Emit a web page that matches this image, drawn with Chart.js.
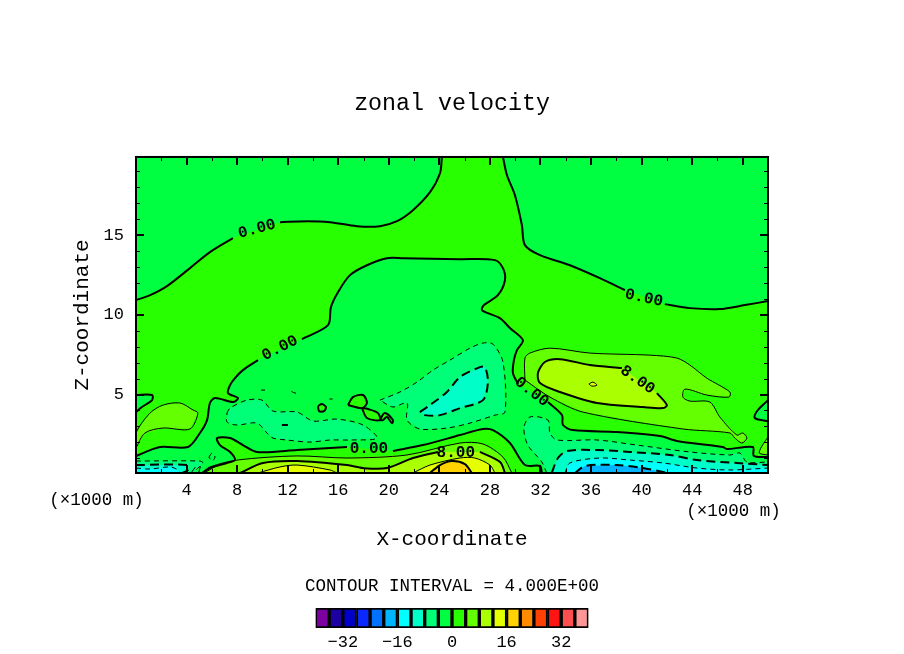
<!DOCTYPE html>
<html><head><meta charset="utf-8">
<style>html,body{margin:0;padding:0;background:#fff;overflow:hidden}
#main{position:absolute;left:0;top:0}
#bar{position:absolute;left:0;top:570px}</style>
<script src="https://cdn.jsdelivr.net/npm/chart.js@4"></script>
</head><body>
<canvas id="main" width="904" height="654"></canvas>
<canvas id="bar" width="904" height="84"></canvas>
<script>
// axis values
const xTickValues=[4,8,12,16,20,24,28,32,36,40,44,48];
const xMinorValues=[2,6,10,14,18,22,26,30,34,38,42,46];
const zTickValues=[5,10,15];
const zMinorValues=[1,2,3,4,6,7,8,9,11,12,13,14,16,17,18,19];
const xRange=[0,50];
const zRange=[0.08,19.9];
// colour key
const levelEdges=[-40,-36,-32,-28,-24,-20,-16,-12,-8,-4,0,4,8,12,16,20,24,28,32,36,40];
const levelColors=['#7d00a0','#1e00a0','#0000c8','#0a28ff','#0070ff','#00b4ff','#00ffff','#00ffc8','#00ff78','#00ff40','#28ff00','#64ff00','#aaff00','#e6ff00','#ffd200','#ff8c00','#ff4000','#ff1414','#ff5050','#ff9696'];
const keyTicks=[-32,-16,0,16,32];
const colorOf=v=>levelColors[levelEdges.indexOf(v)];
// contour lines, [x (km), z (km)]
const zeroTopLeftA=[[0,10.92],[1.11,11.23],[2.45,11.8],[4.27,12.93],[5.85,13.93],[7.67,14.81]];
const zeroTopLeftB=[[11.39,15.81],[13.53,15.87],[15.35,15.81],[17.48,15.56],[19.3,15.56],[20.65,15.87],[21.91,16.56],[23.26,17.69],[24.05,18.88],[24.2,19.9]];
const zeroTopRightA=[[29.03,19.9],[29.35,18.75],[29.98,17.5],[30.53,15.62],[30.77,14.37],[31.96,13.74],[34.33,13.11],[36.7,12.3],[38.68,11.55]];
const zeroTopRightB=[[41.84,10.67],[43.82,10.42],[46.19,10.36],[48.17,10.61],[50,10.86]];
const zeroMidA=[[0,1.15],[1.9,1.71],[4.11,1.71],[5.06,2.59],[5.62,3.4],[5.85,4.47],[6.25,4.78],[7.67,4.53],[8.07,4.78],[7.28,5.09],[7.44,5.59],[7.83,6.03],[8.46,6.53],[9.65,7.16]];
const zeroMidB=[[13.13,8.48],[15.19,9.35],[15.42,10.48],[15.98,11.42],[16.93,12.49],[18.27,13.11],[19.85,13.55],[21.12,13.55],[25.63,13.49],[28.4,13.43],[29.03,12.93],[29.19,12.17],[28.63,11.23],[27.53,10.61],[27.37,10.29],[28.79,9.79],[29.58,9.17],[30.61,8.41],[30.14,7.79],[29.9,7.16],[29.82,6.35],[30.22,5.66]];
const zeroMidC=[[32.59,4.53],[33.7,3.71],[33.78,3.09],[34.57,2.77],[38.05,2.65],[41.45,2.4],[42.79,2.09],[46.43,1.71],[46.75,1.58],[48.8,1.71],[48.88,1.15],[50,1.08]];
const zeroHumpA=[[32.11,0.08],[31.96,0.52],[30.77,0.58],[29.58,1.96],[28.24,2.77],[27.45,2.84],[25.63,2.46],[22.7,1.83],[20.33,1.46]];
const zeroHumpB=[[16.69,1.71],[15.35,1.65],[12.74,1.52],[9.57,1.4],[8.46,1.83],[7.44,2.27],[6.41,2.27],[6.64,1.83],[7.44,1.4],[7.83,0.89],[7.2,0.71],[5.85,0.39],[5.22,0.08]];
const zeroPocketLeft=[[0,4.97],[1.27,4.97],[1.27,4.65],[0.47,4.22],[0,3.9]];
const zeroPocketRight=[[50,4.65],[49.2,4.03],[48.96,3.53],[49.92,3.34],[50,3.3]];
const zeroLoopA=[[14.4,4.28],[14.71,4.4],[15.03,4.22],[14.87,3.96],[14.48,3.96]];
const zeroLoopB=[[16.77,4.34],[17.16,4.84],[17.96,4.97],[18.27,4.47],[17.88,4.15]];
const zeroLoopC=[[17.88,4.15],[18.27,3.53],[19.3,3.4],[19.14,3.84],[18.35,4.09]];
const zeroLoopD=[[19.3,3.4],[19.68,3.84],[20.33,3.4],[20.25,3.21],[19.85,3.59],[19.53,3.4]];
const plus4Left=[[0,1.65],[0.71,2.59],[2.14,2.9],[4.27,2.84],[4.9,3.84],[4.51,4.03],[3.48,4.47],[2.14,4.34],[1.11,3.84],[0,2.59]];
const plus4Right=[[50,2.34],[49.48,1.71],[49.32,1.33],[50,1.21]];
const plus4Lobe=[[30.77,5.91],[30.77,7.29],[31.16,7.6],[32.75,7.91],[35.91,7.6],[40.66,7.47],[42.79,7.29],[43.82,6.85],[45.16,6.03],[46.99,5.16],[46.91,4.84],[45.16,4.97],[43.43,5.34],[43.27,4.84],[43.82,4.59],[45.4,4.53],[46.19,3.59],[47.54,2.46],[48.01,2.59],[48.33,2.27],[47.93,1.96],[47.38,2.27],[46.99,2.59],[43.27,2.84],[35.36,3.9],[32.75,4.84]];
const plus8Lobe=[[41.21,5.09],[42,4.34],[41.69,4.15],[40.1,4.22],[36.47,4.47],[33.54,5.16],[31.96,5.72],[31.8,6.35],[32.35,7.04],[33.54,7.22],[35.91,6.85],[38.44,6.66]];
const plus12Tiny=[[35.83,5.66],[36.15,5.78],[36.47,5.59],[36.07,5.53]];
const plus4Hump=[[5.22,0.08],[5.85,0.46],[8,0.89],[12.74,1.15],[16.69,1.02],[21.44,1.21],[25.63,1.96],[27.45,1.9],[29.03,1.08],[29.74,0.08]];
const plus8HumpA=[[8.23,0.08],[10.04,0.71],[12.74,0.83],[16.69,0.58],[17.96,0.39],[19.85,0.39],[21.91,1.02],[23.89,1.4]];
const plus8HumpB=[[27.21,1.4],[28.8,0.77],[29.19,0.08]];
const plus12HumpA=[[9.65,0.08],[11.39,0.46],[12.74,0.58],[15.35,0.27],[15.9,0.08]];
const plus12HumpB=[[21.91,0.08],[23.26,0.58],[25.63,1.02],[26.81,1.02],[28,0.58],[28.4,0.08]];
const plus16Hump=[[23.26,0.08],[24.05,0.58],[24.99,0.83],[26.02,0.64],[26.57,0.08]];
const minus4Mid=[[19.3,4.65],[20.88,5.16],[22.23,5.78],[23.49,6.53],[24.84,7.16],[26.42,7.91],[27.45,8.23],[28.24,8.16],[29.03,7.04],[29.19,3.9],[28.4,3.71],[26.42,3.21],[24.6,2.9],[22.46,2.84],[21.44,3.4],[21.44,4.47],[20.33,4.22]];
const minus8Mid=[[22.46,3.9],[23.26,4.34],[24.6,5.16],[25.63,6.1],[27.21,6.72],[27.61,6.72],[27.84,5.78],[27.45,4.65],[25.63,4.15],[24.05,3.71],[22.86,3.71]];
const minus4Band=[[7.2,3.84],[7.44,4.15],[8.78,4.65],[9.97,4.65],[10.84,3.96],[12.74,3.9],[14,3.34],[15.9,3.46],[17.96,3.09],[19.06,2.27],[16.93,2.15],[15.35,2.15],[13.76,2.02],[11.94,2.15],[10.84,2.27],[10.36,2.59],[9.57,3.21],[7.99,3.09],[7.2,3.28]];
const minus8Speck=[[11.54,3.09],[12.02,3.09]];
const minus4SpeckA=[[9.9,5.28],[10.2,5.28]];
const minus4SpeckB=[[12.3,5.2],[12.58,5.09],[12.9,5.15]];
const minus4SpeckC=[[15.3,4.72],[15.55,4.72]];
const minus4LoopLow=[[5.77,1.08],[6.01,1.33],[6.25,1.08],[6.01,0.83]];
const minus4Right=[[32.49,0.08],[32.11,0.77],[31,1.83],[30.69,2.9],[31.16,3.59],[32.59,3.4],[32.75,2.59],[33.3,2.15],[36.47,2.15],[39.63,1.83],[43.82,1.4],[46.99,1.21],[47.78,1.33],[48.33,0.77],[50,0.77],[50,0.08]];
const minus8Right=[[32.89,0.08],[33.38,1.02],[34.1,1.46],[36.47,1.52],[39.08,1.4],[42.24,1.21],[44.38,0.89],[47.54,0.71],[50,0.58],[50,0.08]];
const minus12Right=[[33.94,0.08],[34.33,0.71],[36.7,1.02],[39.08,0.89],[41.69,0.71],[44.38,0.39],[46.99,0.27],[50,0.39],[50,0.08]];
const minus16Right=[[34.73,0.08],[35.52,0.52],[38.05,0.58],[40.1,0.39],[42.09,0.08]];
const minus4Left=[[0,0.83],[5.06,0.83],[5.3,0.71],[4.9,0.39],[4.51,0.08],[0,0.08]];
const minus8Left=[[0,0.58],[4.03,0.58],[4.11,0.27],[3.64,0.08],[0,0.08]];
const minus12Left=[[0,0.39],[1.11,0.33],[2.69,0.46],[3.32,0.27],[3.48,0.08],[0,0.08]];
const streaksA=[[4.35,0.08],[4.7,0.45]];
const streaksB=[[4.95,0.08],[5.1,0.5]];
const streaksC=[[5.4,0.08],[6.3,0.5]];
// contour labels: x, z, text, tilt
const contourLabelX=[9.57,11.39,18.43,31.3,40.18,39.68,25.3];
const contourLabelZ=[15.37,7.91,1.6,5.16,11.05,5.91,1.33];
const contourLabelText=['0.00','0.00','0.00','0.00','0.00','8.00','8.00'];
const contourLabelTilt=[-15,-27,0,38,12,35,0];

const cornerTL=[[0,19.9]], cornerTR=[[50,19.9]], floor=[[50,0.08],[0,0.08]], wholeField=[[0,0.08],[50,0.08],[50,19.9],[0,19.9]];
const toXY=a=>a.map(p=>({x:p[0],y:p[1]}));
const ds=[];
function area(points,level){ds.push({data:toXY(points),showLine:true,fill:'shape',backgroundColor:colorOf(level),borderWidth:0,pointRadius:0,tension:0});}
function line(points,w,dash){ds.push({data:toXY(points),showLine:true,fill:false,borderColor:'#000',borderWidth:w,borderDash:dash||[],pointRadius:0,tension:0.3,borderJoinStyle:'round'});}
const loop=a=>a.concat([a[0]]);
const THICK=2, THIN=1, DT=[9,5], Dt=[5,4];

// fills, painter's order
area(wholeField,0);
area(zeroTopLeftA.concat(zeroTopLeftB,cornerTL),-4);
area(zeroTopRightA.concat(zeroTopRightB,cornerTR),-4);
area(zeroMidA.concat(zeroMidB,zeroMidC,floor),-4);
area(zeroHumpA.concat(zeroHumpB),0);
area(zeroPocketLeft,-4); area(zeroPocketRight,-4);
area(minus4Mid,-8); area(minus8Mid,-12); area(minus4Band,-8);
[zeroLoopA,zeroLoopB,zeroLoopC,zeroLoopD].forEach(a=>area(a,0));
area(plus4Left,4); area(plus4Right,4); area(plus4Lobe,4); area(plus8Lobe,8); area(plus12Tiny,12);
area(plus4Hump,4); area(plus8HumpA.concat(plus8HumpB),8);
area(plus12HumpA,12); area(plus12HumpB,12); area(plus16Hump,16);
area(minus4Right,-8); area(minus8Right,-12); area(minus12Right,-16); area(minus16Right,-20);
area(minus4Left,-8); area(minus8Left,-12); area(minus12Left,-16);
// contour lines
[zeroTopLeftA,zeroTopLeftB,zeroTopRightA,zeroTopRightB,zeroMidA,zeroMidB,zeroMidC,zeroHumpA,zeroHumpB,zeroPocketLeft,zeroPocketRight,plus8HumpA,plus8HumpB,plus16Hump,plus8Lobe].forEach(a=>line(a,THICK));
[zeroLoopA,zeroLoopB,zeroLoopC,zeroLoopD].forEach(a=>line(loop(a),THICK));
[plus4Left,plus4Lobe,plus12Tiny].forEach(a=>line(loop(a),THIN));
[plus4Right,plus4Hump,plus12HumpA,plus12HumpB,streaksA,streaksB,streaksC].forEach(a=>line(a,THIN));
[minus4Mid,minus4Band,minus4LoopLow].forEach(a=>line(loop(a),THIN,Dt));
[minus4SpeckA,minus4SpeckB,minus4SpeckC,minus4Right.slice(0,-1),minus12Right.slice(0,-1),minus4Left.slice(0,-1),minus12Left.slice(0,-1)].forEach(a=>line(a,THIN,Dt));
line(loop(minus8Mid),THICK,DT);
[minus8Speck,minus8Right.slice(0,-1),minus16Right,minus8Left.slice(0,-1)].forEach(a=>line(a,THICK,DT));
ds.forEach((d,i)=>{d.order=-i;});

const MONO='"Liberation Mono", monospace';
const furniture={id:'furniture',afterDatasetsDraw(c){
  const g=c.ctx,a=c.chartArea,X=c.scales.x,Y=c.scales.y;
  g.save();g.strokeStyle='#000';g.fillStyle='#000';g.lineCap='butt';
  g.lineWidth=1;
  const tick=(x1,y1,x2,y2)=>{g.beginPath();g.moveTo(x1,y1);g.lineTo(x2,y2);g.stroke();};
  xMinorValues.forEach(v=>{const p=Math.round(X.getPixelForValue(v))+.5;tick(p,a.top,p,a.top+4);tick(p,a.bottom,p,a.bottom-4);});
  zMinorValues.forEach(v=>{const p=Math.round(Y.getPixelForValue(v))+.5;tick(a.left,p,a.left+4,p);tick(a.right,p,a.right-4,p);});
  g.lineWidth=2;
  xTickValues.forEach(v=>{const p=Math.round(X.getPixelForValue(v));tick(p,a.top,p,a.top+8);tick(p,a.bottom,p,a.bottom-8);});
  zTickValues.forEach(v=>{const p=Math.round(Y.getPixelForValue(v));tick(a.left,p,a.left+8,p);tick(a.right,p,a.right-8,p);});
  g.strokeRect(a.left,a.top,a.right-a.left,a.bottom-a.top);
  g.textAlign='center';g.textBaseline='middle';
  g.font='bold 16px '+MONO;
  contourLabelText.forEach((t,i)=>{g.save();g.translate(X.getPixelForValue(contourLabelX[i]),Y.getPixelForValue(contourLabelZ[i]));g.rotate(contourLabelTilt[i]*Math.PI/180);g.fillText(t,0,0);g.restore();});
  g.font='17.5px '+MONO;
  g.fillText('(×1000 m)',96.5,500);
  g.fillText('(×1000 m)',733.5,511);
  g.restore();
}};
const blankSide=(pos,w)=>({type:'linear',position:pos,display:true,grid:{display:false,drawTicks:false},border:{display:false},ticks:{display:false},afterFit(s){s.width=w;}});

new Chart(document.getElementById('main'),{type:'scatter',data:{datasets:ds},plugins:[furniture],options:{
  responsive:false,animation:false,devicePixelRatio:1,
  plugins:{legend:{display:false},tooltip:{enabled:false},
    title:{display:true,text:'zonal velocity',color:'#000',font:{family:MONO,size:23.3,weight:'normal',lineHeight:1.2},padding:{top:90,bottom:39}}},
  scales:{
    x:{type:'linear',min:xRange[0],max:xRange[1],grid:{display:false,drawTicks:false},border:{display:false},
      afterBuildTicks(s){s.ticks=xTickValues.map(v=>({value:v}));},
      afterFit(s){s.height=181;},
      ticks:{color:'#000',maxRotation:0,autoSkip:false,padding:7,font:{family:MONO,size:17},callback:v=>String(v)},
      title:{display:true,text:'X-coordinate',color:'#000',font:{family:MONO,size:21,lineHeight:1.2},padding:{top:0,bottom:102}}},
    y:{type:'linear',min:zRange[0],max:zRange[1],grid:{display:false,drawTicks:false},border:{display:false},
      afterBuildTicks(s){s.ticks=zTickValues.map(v=>({value:v}));},
      afterFit(s){s.width=136;},
      ticks:{color:'#000',autoSkip:false,padding:12,font:{family:MONO,size:17},callback:v=>String(v)},
      title:{display:true,text:'Z-coordinate',color:'#000',font:{family:MONO,size:21,lineHeight:1.2},padding:{top:70,bottom:0}}},
    rightSide:blankSide('right',136)
  }
}});

new Chart(document.getElementById('bar'),{type:'bar',data:{labels:[''],datasets:levelColors.map((c,i)=>({data:[[levelEdges[i],levelEdges[i+1]]],backgroundColor:c,borderColor:'#000',borderWidth:2,borderSkipped:false,barPercentage:1,categoryPercentage:1,grouped:false}))},options:{
  indexAxis:'y',responsive:false,animation:false,devicePixelRatio:1,
  plugins:{legend:{display:false},tooltip:{enabled:false},
    title:{display:true,text:'CONTOUR INTERVAL = 4.000E+00',color:'#000',font:{family:MONO,size:17.5,weight:'normal',lineHeight:1.2},padding:{top:5.5,bottom:11.5}}},
  scales:{
    x:{type:'linear',min:levelEdges[0],max:levelEdges[levelEdges.length-1],grid:{display:false,drawTicks:false},border:{display:false},
      afterBuildTicks(s){s.ticks=keyTicks.map(v=>({value:v}));},
      afterFit(s){s.height=26;},
      ticks:{color:'#000',autoSkip:false,maxRotation:0,padding:4,font:{family:MONO,size:17},callback:v=>String(v).replace('-','−')}},
    y:{type:'category',display:true,grid:{display:false,drawTicks:false},border:{display:false},ticks:{display:false},afterFit(s){s.width=315.5;}},
    rightSide:blankSide('right',315.5)
  }
}});
</script>
</body></html>
